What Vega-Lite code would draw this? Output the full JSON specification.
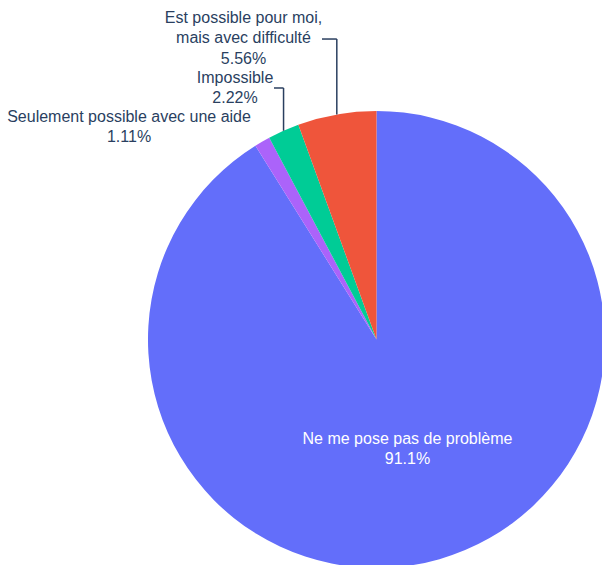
{
  "$schema": "https://vega.github.io/schema/vega-lite/v6.json",
  "autosize": {"type": "none"},
  "padding": {"left": 148, "top": 111, "right": 0, "bottom": 0},
  "width": 454,
  "height": 454,
  "background": "white",
  "config": {"view": {"stroke": null}},
  "data": {
    "values": [
      {"category": "Ne me pose pas de problème", "value": 82, "order": 1},
      {"category": "Seulement possible avec une aide", "value": 1, "order": 2},
      {"category": "Impossible", "value": 2, "order": 3},
      {"category": "Est possible pour moi, mais avec difficulté", "value": 5, "order": 4}
    ]
  },
  "transform": [
    {"joinaggregate": [{"op": "sum", "field": "value", "as": "total"}]},
    {"window": [{"op": "sum", "field": "value", "as": "cum"}], "sort": [{"field": "order"}], "frame": [null, 0]},
    {"calculate": "2*PI*(datum.cum - datum.value/2)/datum.total", "as": "mid"},
    {"calculate": "sin(datum.mid)", "as": "ex"},
    {"calculate": "cos(datum.mid)", "as": "ey"},
    {"calculate": "replace(datum.category, ', ', ',\\n') + '\\n' + format(datum.value/datum.total, '.3p')", "as": "text"}
  ],
  "layer": [
    {
      "mark": {"type": "arc", "radius": 228.5},
      "encoding": {
        "x": {"datum": 0, "type": "quantitative", "scale": {"domain": [-1, 0.987], "nice": false, "zero": false}, "axis": null},
        "y": {"datum": 0, "type": "quantitative", "scale": {"domain": [-0.987, 1], "nice": false, "zero": false}, "axis": null},
        "theta": {"field": "value", "type": "quantitative", "stack": true},
        "order": {"field": "order"},
        "color": {
          "field": "category",
          "type": "nominal",
          "scale": {
            "domain": ["Ne me pose pas de problème", "Est possible pour moi, mais avec difficulté", "Impossible", "Seulement possible avec une aide"],
            "range": ["#636efa", "#EF553B", "#00cc96", "#ab63fa"]
          },
          "legend": null
        }
      }
    },
    {
      "transform": [{"filter": "datum.order == 4"}],
      "mark": {"type": "rule", "stroke": "#2a3f5f", "strokeWidth": 1.5},
      "encoding": {
        "x": {"field": "ex", "type": "quantitative"},
        "y": {"field": "ey", "type": "quantitative"},
        "y2": {"datum": 1.315}
      }
    },
    {
      "transform": [{"filter": "datum.order == 4"}],
      "mark": {"type": "rule", "stroke": "#2a3f5f", "strokeWidth": 1.5},
      "encoding": {
        "x": {"field": "ex", "type": "quantitative"},
        "x2": {"datum": -0.2385},
        "y": {"datum": 1.315, "type": "quantitative"}
      }
    },
    {
      "transform": [{"filter": "datum.order == 3"}],
      "mark": {"type": "rule", "stroke": "#2a3f5f", "strokeWidth": 1.5},
      "encoding": {
        "x": {"field": "ex", "type": "quantitative"},
        "y": {"field": "ey", "type": "quantitative"},
        "y2": {"datum": 1.1007}
      }
    },
    {
      "transform": [{"filter": "datum.order == 3"}],
      "mark": {"type": "rule", "stroke": "#2a3f5f", "strokeWidth": 1.5},
      "encoding": {
        "x": {"field": "ex", "type": "quantitative"},
        "x2": {"datum": -0.4486},
        "y": {"datum": 1.1007, "type": "quantitative"}
      }
    },
    {
      "transform": [{"filter": "datum.order == 4"}],
      "mark": {"type": "text", "align": "center", "baseline": "alphabetic", "font": "Liberation Sans", "fontSize": 16, "lineHeight": 20.5, "lineBreak": "\n", "fill": "#2a3f5f"},
      "encoding": {
        "x": {"datum": -0.582, "type": "quantitative"},
        "y": {"datum": 1.386, "type": "quantitative"},
        "text": {"field": "text"}
      }
    },
    {
      "transform": [{"filter": "datum.order == 3"}],
      "mark": {"type": "text", "align": "center", "baseline": "alphabetic", "font": "Liberation Sans", "fontSize": 16, "lineHeight": 20.5, "lineBreak": "\n", "fill": "#2a3f5f"},
      "encoding": {
        "x": {"datum": -0.619, "type": "quantitative"},
        "y": {"datum": 1.124, "type": "quantitative"},
        "text": {"field": "text"}
      }
    },
    {
      "transform": [{"filter": "datum.order == 2"}],
      "mark": {"type": "text", "align": "center", "baseline": "alphabetic", "font": "Liberation Sans", "fontSize": 16, "lineHeight": 20.5, "lineBreak": "\n", "fill": "#2a3f5f"},
      "encoding": {
        "x": {"datum": -1.083, "type": "quantitative"},
        "y": {"datum": 0.952, "type": "quantitative"},
        "text": {"field": "text"}
      }
    },
    {
      "transform": [{"filter": "datum.order == 1"}],
      "mark": {"type": "text", "align": "center", "baseline": "alphabetic", "font": "Liberation Sans", "fontSize": 16, "lineHeight": 20.5, "lineBreak": "\n", "fill": "#ffffff"},
      "encoding": {
        "x": {"datum": 0.1357, "type": "quantitative"},
        "y": {"datum": -0.457, "type": "quantitative"},
        "text": {"field": "text"}
      }
    }
  ]
}
